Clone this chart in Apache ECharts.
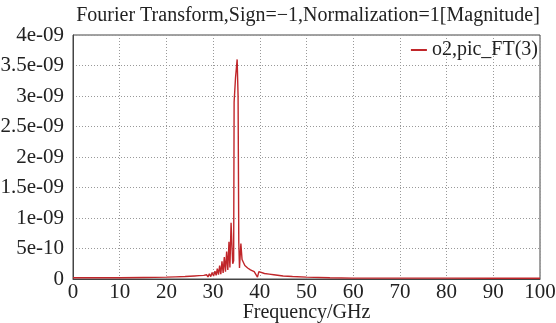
<!DOCTYPE html>
<html><head><meta charset="utf-8">
<script src="https://cdn.jsdelivr.net/npm/echarts@6/dist/echarts.min.js"></script>
<style>html,body{margin:0;padding:0;background:#fff}#c{width:556px;height:323px}</style>
</head><body><div id="c"></div>
<script>
// Frequency (GHz)
const freq = [0,5,10,15,20,22,24,26,27,28.0,28.3,28.6,28.9,29.2,29.5,29.8,30.1,30.4,30.65,30.9,31.15,31.4,31.65,31.9,32.15,32.4,32.65,32.9,33.15,33.4,33.6,33.85,34.2,34.4,34.5,34.8,35.15,35.35,35.5,35.65,35.95,36.2,36.5,36.8,37.1,37.4,37.7,38.0,38.4,38.8,39.2,39.5,39.8,40.2,41,42,43,45,47,50,55,60,70,80,90,100];
// Magnitude in units of 1e-10
const magE10 = [0.2,0.2,0.2,0.25,0.3,0.35,0.4,0.5,0.55,0.6,0.3,0.7,0.35,0.85,0.4,1.05,0.5,1.3,0.6,1.7,0.7,2.2,0.8,2.9,1.0,3.6,1.2,4.5,1.5,6.1,1.9,9.2,2.5,3.0,29,33,36,30,6,1.8,5.8,3.2,3.0,2.2,2.4,1.8,2.0,1.5,1.5,1.2,1.0,0.3,1.2,0.9,0.9,0.8,0.7,0.5,0.4,0.3,0.2,0.15,0.15,0.15,0.12,0.12];
const xTicks = [0,10,20,30,40,50,60,70,80,90,100];
const yTickLabels = ['0','5e-10','1e-09','1.5e-09','2e-09','2.5e-09','3e-09','3.5e-09','4e-09'];
const seriesName = 'o2,pic_FT(3)';
const titleText = 'Fourier Transform,Sign=\u22121,Normalization=1[Magnitude]';
const xName = 'Frequency/GHz';

const data = freq.map((f,i)=>[f, magE10[i]*1e-10]);
const font = 'Liberation Serif';
const chart = echarts.init(document.getElementById('c'), null, {renderer:'canvas'});
chart.setOption({
  animation:false,
  backgroundColor:'#fff',
  title:{text:titleText,left:303,textAlign:'center',top:1,textStyle:{fontFamily:font,fontSize:20,fontWeight:'normal',color:'#222'}},
  legend:{data:[seriesName],right:18,top:40,itemWidth:16,itemHeight:2,itemGap:4,icon:'rect',
    textStyle:{fontFamily:font,fontSize:20,color:'#222'},padding:[0,0,0,0]},
  grid:{left:73,right:16,top:35,bottom:44,show:true,borderColor:'#444',borderWidth:1,backgroundColor:'#fff',
    containLabel:false,outerBoundsMode:'none'},
  xAxis:{type:'value',min:0,max:100,interval:10,name:xName,nameLocation:'middle',nameGap:24,nameMoveOverlap:false,
    nameTextStyle:{fontFamily:font,fontSize:20,color:'#222'},
    axisLine:{lineStyle:{color:'#444'}},axisTick:{show:false},
    axisLabel:{fontFamily:font,fontSize:21,color:'#222',margin:3,formatter:v=>String(v)},
    splitLine:{show:true,lineStyle:{color:'#999',type:[1,2],width:1}}},
  yAxis:{type:'value',min:0,max:4e-9,interval:0.5e-9,
    axisLine:{show:true,lineStyle:{color:'#444'}},axisTick:{show:false},
    axisLabel:{fontFamily:font,fontSize:21,color:'#222',margin:9,formatter:v=>yTickLabels[Math.round(v/0.5e-9)]},
    splitLine:{show:true,lineStyle:{color:'#999',type:[1,2],width:1}}},
  series:[{name:seriesName,type:'line',data:data,showSymbol:false,symbol:'none',
    lineStyle:{color:'#c0262a',width:1.4},itemStyle:{color:'#c0262a'}}]
});
</script></body></html>
